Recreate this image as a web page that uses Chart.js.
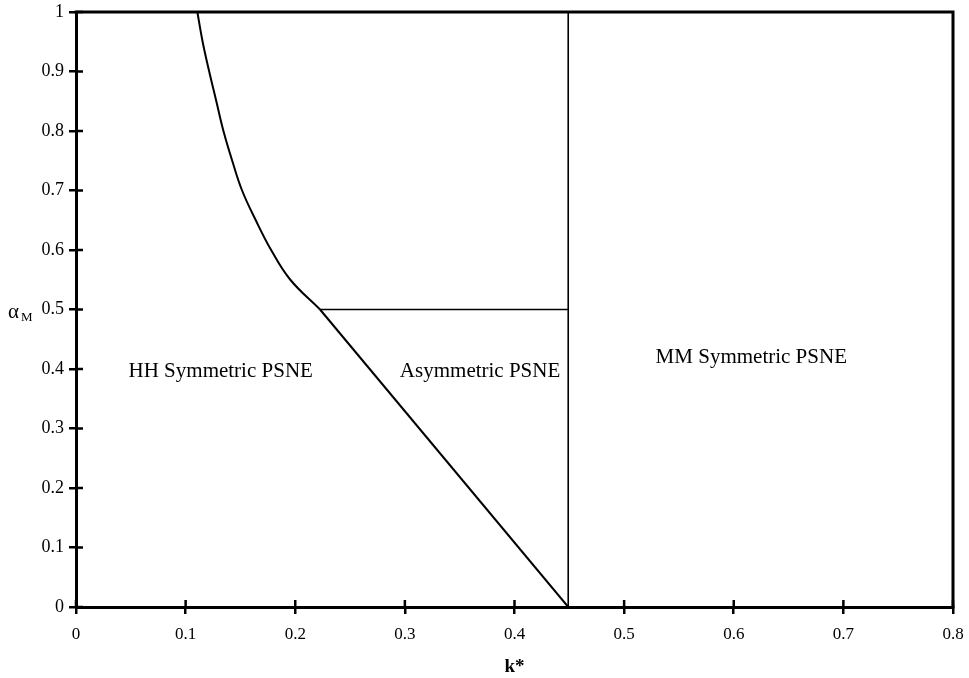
<!DOCTYPE html>
<html>
<head>
<meta charset="utf-8">
<script src="https://cdn.jsdelivr.net/npm/chart.js@4"></script>
<style>
  html, body { margin: 0; padding: 0; background: #fff; }
  #caja { width: 969px; height: 678px; }
</style>
</head>
<body>
<div id="caja"><canvas id="grafica" width="969" height="678"></canvas></div>
<script>
// curva HH / Asimetrico
const curvaK = [0.1107, 0.1155, 0.1215, 0.128, 0.1345, 0.1425, 0.1515, 0.164, 0.178, 0.1955, 0.2226];
const curvaAlfa = [1, 0.95, 0.9, 0.85, 0.8, 0.75, 0.7, 0.65, 0.6, 0.55, 0.5];
// recta diagonal
const rectaK = [0.2226, 0.449];
const rectaAlfa = [0.5, 0];
// linea horizontal en alfa = 0.5
const horizK = [0.2226, 0.449];
const horizAlfa = [0.5, 0.5];
// linea vertical k* = 0.449
const vertK = [0.449, 0.449];
const vertAlfa = [0, 1];
// etiquetas de las regiones
const regiones = ['HH Symmetric PSNE', 'Asymmetric PSNE', 'MM Symmetric PSNE'];
const regionK = [0.132, 0.3686, 0.616];
const regionAlfa = [0.395, 0.395, 0.42];
// etiquetas de los ejes
const xTicks = ['0', '0.1', '0.2', '0.3', '0.4', '0.5', '0.6', '0.7', '0.8'];
const yTicks = ['0', '0.1', '0.2', '0.3', '0.4', '0.5', '0.6', '0.7', '0.8', '0.9', '1'];

function puntos(xs, ys) {
    return xs.map((x, i) => ({x: x, y: ys[i]}));
}

const serif = 'Liberation Serif';

// marco de arriba y derecha, marcas que cruzan el eje, textos
const extras = {
    id: 'extras',
    afterDatasetsDraw(chart) {
        const ctx = chart.ctx;
        const a = chart.chartArea;
        const sx = chart.scales.x;
        const sy = chart.scales.y;
        ctx.save();
        ctx.strokeStyle = '#000';
        ctx.lineWidth = 3;
        ctx.beginPath();
        ctx.moveTo(a.left - 1.5, a.top);
        ctx.lineTo(a.right, a.top);
        ctx.lineTo(a.right, a.bottom + 1.5);
        ctx.stroke();
        // parte interior de las marcas
        ctx.lineWidth = 2.5;
        ctx.beginPath();
        sy.ticks.forEach(t => {
            const py = sy.getPixelForValue(t.value);
            ctx.moveTo(a.left, py);
            ctx.lineTo(a.left + 7, py);
        });
        sx.ticks.forEach(t => {
            const px = sx.getPixelForValue(t.value);
            ctx.moveTo(px, a.bottom);
            ctx.lineTo(px, a.bottom - 7);
        });
        ctx.stroke();
        // textos de las regiones
        ctx.fillStyle = '#000';
        ctx.font = '21px "' + serif + '"';
        ctx.textAlign = 'center';
        ctx.textBaseline = 'middle';
        regiones.forEach((r, i) => {
            ctx.fillText(r, sx.getPixelForValue(regionK[i]), sy.getPixelForValue(regionAlfa[i]));
        });
        // titulo eje y: alfa sub M
        ctx.textAlign = 'left';
        ctx.textBaseline = 'alphabetic';
        ctx.font = '21px "' + serif + '"';
        ctx.fillText('\u03b1', 8, 318);
        ctx.font = '13px "' + serif + '"';
        ctx.fillText('M', 21, 321);
        ctx.restore();
    }
};

const base = {showLine: true, pointRadius: 0, borderColor: '#000', fill: false};

new Chart(document.getElementById('grafica').getContext('2d'), {
    type: 'scatter',
    data: {
        datasets: [
            Object.assign({data: puntos(curvaK, curvaAlfa), borderWidth: 2, tension: 0.4}, base),
            Object.assign({data: puntos(rectaK, rectaAlfa), borderWidth: 2}, base),
            Object.assign({data: puntos(horizK, horizAlfa), borderWidth: 1.6}, base),
            Object.assign({data: puntos(vertK, vertAlfa), borderWidth: 1.6}, base)
        ]
    },
    options: {
        responsive: false,
        animation: false,
        layout: {padding: {left: 0, top: 12, right: 16, bottom: 0}},
        plugins: {legend: {display: false}, tooltip: {enabled: false}},
        scales: {
            x: {
                type: 'linear',
                min: 0,
                max: 0.8,
                afterFit: s => { s.height = 71; s.paddingLeft = 0; s.paddingRight = 0; },
                ticks: {
                    stepSize: 0.1,
                    color: '#000',
                    padding: 10,
                    maxRotation: 0,
                    font: {family: serif, size: 17},
                    callback: (v, i) => xTicks[i]
                },
                grid: {drawOnChartArea: false, color: '#000', lineWidth: 2.5, tickLength: 7},
                border: {color: '#000', width: 3},
                title: {display: true, text: 'k*', color: '#000', font: {family: serif, size: 19, weight: 'bold'}, padding: {top: 0, bottom: 0}}
            },
            y: {
                type: 'linear',
                min: 0,
                max: 1,
                afterFit: s => { s.width = 76; s.paddingTop = 0; s.paddingBottom = 0; },
                ticks: {
                    stepSize: 0.1,
                    color: '#000',
                    padding: 5,
                    font: {family: serif, size: 18},
                    callback: (v, i) => yTicks[i]
                },
                grid: {drawOnChartArea: false, color: '#000', lineWidth: 2.5, tickLength: 7},
                border: {color: '#000', width: 3}
            }
        }
    },
    plugins: [extras]
});
</script>
</body>
</html>
